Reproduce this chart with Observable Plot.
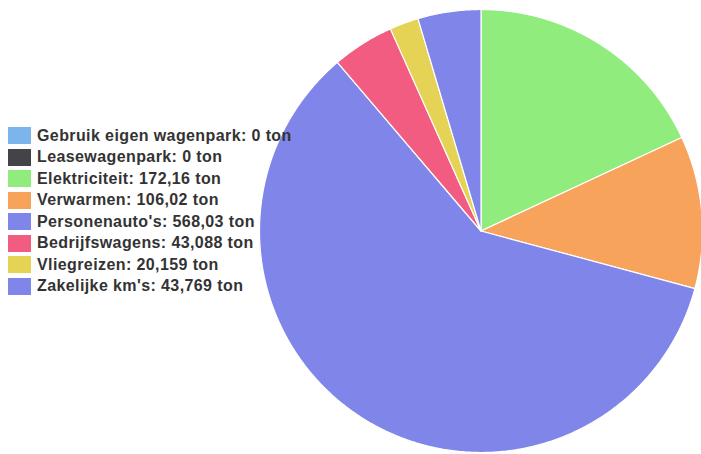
<!DOCTYPE html>
<html>
<head>
<meta charset="utf-8">
<script src="https://cdn.jsdelivr.net/npm/d3@7"></script>
<script src="https://cdn.jsdelivr.net/npm/@observablehq/plot@0.6"></script>
<style>
  html, body { margin: 0; padding: 0; background: #fff; }
  #wrap { position: relative; width: 701px; height: 454px; overflow: hidden; }
  #legend { position: absolute; left: 8px; top: 125px; font-family: "Liberation Sans", Arial, sans-serif; font-weight: bold; font-size: 16px; letter-spacing: 0.4px; color: #333333; }
  .item { height: 21.5px; display: flex; align-items: center; white-space: nowrap; }
  .sw { width: 23px; height: 17px; margin-right: 6px; flex: none; }
</style>
</head>
<body>
<div id="wrap"><div id="legend"></div></div>
<script>
const categories = ["Gebruik eigen wagenpark", "Leasewagenpark", "Elektriciteit", "Verwarmen", "Personenauto's", "Bedrijfswagens", "Vliegreizen", "Zakelijke km's"];
const values = [0, 0, 172.16, 106.02, 568.03, 43.088, 20.159, 43.769];
const labels = ["0", "0", "172,16", "106,02", "568,03", "43,088", "20,159", "43,769"];
const colors = ["#7cb5ec", "#434348", "#90ed7d", "#f7a35c", "#8085e9", "#f15c80", "#e4d354", "#8085e9"];

const W = 701, H = 454, cx = 480.5, cy = 230.5, R = 221.5;
const total = d3.sum(values);
const pts = [];
let start = 0;
categories.forEach((c, i) => {
  const a = values[i] / total * 2 * Math.PI;
  if (a > 0) {
    const n = Math.max(2, Math.ceil(a * 180 / Math.PI * 2));
    pts.push({cat: c, x: 0, y: 0, i});
    for (let k = 0; k <= n; k++) {
      const t = start + a * k / n;
      pts.push({cat: c, x: Math.sin(t), y: Math.cos(t), i});
    }
    pts.push({cat: c, x: 0, y: 0, i});
  }
  start += a;
});

const chart = Plot.plot({
  width: W, height: H,
  margin: 0,
  x: {domain: [-cx / R, (W - cx) / R], axis: null},
  y: {domain: [-(H - cy) / R, cy / R], axis: null},
  marks: [
    Plot.line(pts, {x: "x", y: "y", z: "cat", fill: d => colors[d.i], stroke: "#ffffff", strokeWidth: 1.2, strokeLinejoin: "round", curve: "linear"})
  ]
});
chart.style.position = "absolute";
chart.style.left = "0";
chart.style.top = "0";
const wrap = document.getElementById("wrap");
wrap.insertBefore(chart, wrap.firstChild);

const legend = document.getElementById("legend");
categories.forEach((c, i) => {
  const it = document.createElement("div");
  it.className = "item";
  const sw = document.createElement("div");
  sw.className = "sw";
  sw.style.background = colors[i];
  const tx = document.createElement("span");
  tx.textContent = `${c}: ${labels[i]} ton`;
  it.appendChild(sw);
  it.appendChild(tx);
  legend.appendChild(it);
});
</script>
</body>
</html>
